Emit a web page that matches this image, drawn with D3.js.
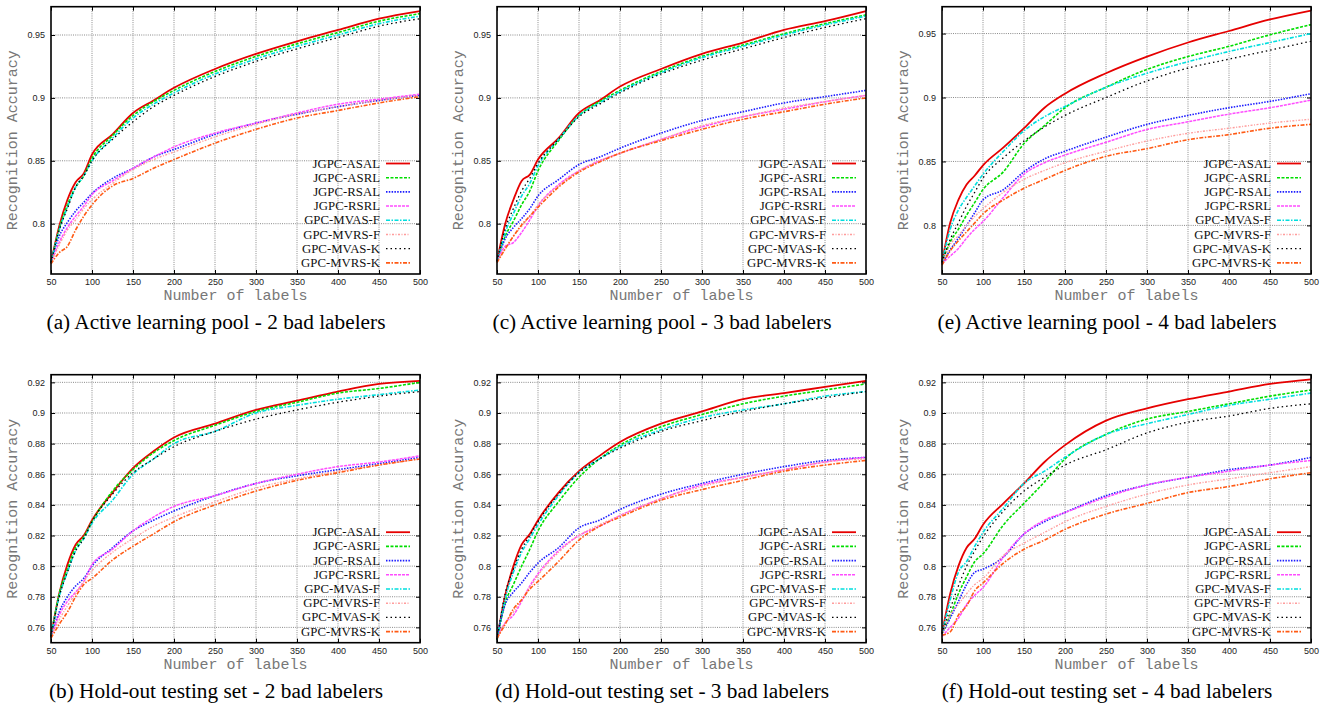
<!DOCTYPE html>
<html>
<head>
<meta charset="utf-8">
<script src="https://cdn.jsdelivr.net/npm/d3@7"></script>
<style>
  body { margin: 0; background: #fff; }
</style>
</head>
<body>
<div id="chart"></div>
<script>
// x positions (number of labels) where values were read
const labelCounts = [50, 60, 70, 80, 90, 100, 125, 150, 175, 200, 250, 300, 350, 400, 450, 500];
const methods = ["JGPC-ASAL", "JGPC-ASRL", "JGPC-RSAL", "JGPC-RSRL", "GPC-MVAS-F", "GPC-MVRS-F", "GPC-MVAS-K", "GPC-MVRS-K"];
const xTicks = [50, 100, 150, 200, 250, 300, 350, 400, 450, 500];
const yTicksPool = [0.8, 0.85, 0.9, 0.95];
const yTicksHold = [0.76, 0.78, 0.8, 0.82, 0.84, 0.86, 0.88, 0.9, 0.92];

// (a) active learning pool - 2 bad labelers (rows follow `methods`)
const pool2 = [
  [0.769, 0.798, 0.819, 0.833, 0.840, 0.855, 0.871, 0.888, 0.898, 0.908, 0.923, 0.935, 0.945, 0.954, 0.963, 0.969],
  [0.769, 0.796, 0.815, 0.829, 0.838, 0.852, 0.870, 0.886, 0.897, 0.906, 0.921, 0.933, 0.943, 0.952, 0.961, 0.967],
  [0.769, 0.790, 0.801, 0.810, 0.817, 0.824, 0.836, 0.844, 0.853, 0.859, 0.871, 0.880, 0.887, 0.893, 0.898, 0.902],
  [0.769, 0.785, 0.797, 0.806, 0.814, 0.823, 0.834, 0.844, 0.853, 0.861, 0.872, 0.880, 0.888, 0.895, 0.899, 0.903],
  [0.769, 0.795, 0.813, 0.829, 0.838, 0.850, 0.868, 0.884, 0.895, 0.904, 0.919, 0.931, 0.941, 0.950, 0.959, 0.965],
  [0.769, 0.783, 0.795, 0.803, 0.812, 0.819, 0.832, 0.843, 0.851, 0.857, 0.869, 0.879, 0.887, 0.893, 0.898, 0.902],
  [0.769, 0.795, 0.812, 0.829, 0.838, 0.850, 0.867, 0.881, 0.893, 0.902, 0.917, 0.929, 0.939, 0.948, 0.957, 0.963],
  [0.768, 0.777, 0.782, 0.795, 0.806, 0.815, 0.830, 0.836, 0.844, 0.851, 0.864, 0.875, 0.884, 0.890, 0.896, 0.901]
];
// (c) active learning pool - 3 bad labelers
const pool3 = [
  [0.770, 0.800, 0.819, 0.834, 0.839, 0.851, 0.868, 0.888, 0.898, 0.909, 0.923, 0.935, 0.944, 0.954, 0.961, 0.969],
  [0.770, 0.790, 0.802, 0.815, 0.826, 0.842, 0.866, 0.886, 0.897, 0.906, 0.921, 0.933, 0.942, 0.951, 0.959, 0.966],
  [0.770, 0.788, 0.797, 0.804, 0.812, 0.822, 0.835, 0.847, 0.853, 0.860, 0.872, 0.882, 0.889, 0.896, 0.901, 0.906],
  [0.770, 0.782, 0.785, 0.793, 0.803, 0.814, 0.831, 0.842, 0.850, 0.856, 0.867, 0.877, 0.885, 0.891, 0.897, 0.902],
  [0.770, 0.793, 0.808, 0.822, 0.832, 0.846, 0.867, 0.886, 0.896, 0.905, 0.920, 0.932, 0.941, 0.950, 0.958, 0.965],
  [0.770, 0.780, 0.790, 0.798, 0.806, 0.815, 0.830, 0.842, 0.850, 0.856, 0.867, 0.878, 0.885, 0.892, 0.897, 0.902],
  [0.770, 0.796, 0.812, 0.826, 0.836, 0.848, 0.867, 0.885, 0.895, 0.904, 0.919, 0.930, 0.939, 0.948, 0.956, 0.963],
  [0.769, 0.780, 0.790, 0.799, 0.806, 0.813, 0.829, 0.841, 0.849, 0.856, 0.866, 0.875, 0.883, 0.889, 0.895, 0.900]
];
// (e) active learning pool - 4 bad labelers
const pool4 = [
  [0.771, 0.802, 0.820, 0.832, 0.839, 0.847, 0.861, 0.876, 0.892, 0.903, 0.919, 0.932, 0.943, 0.952, 0.961, 0.968],
  [0.771, 0.787, 0.797, 0.808, 0.818, 0.828, 0.842, 0.864, 0.878, 0.892, 0.908, 0.922, 0.932, 0.940, 0.949, 0.957],
  [0.770, 0.781, 0.790, 0.800, 0.810, 0.820, 0.828, 0.842, 0.852, 0.858, 0.869, 0.879, 0.886, 0.892, 0.897, 0.903],
  [0.770, 0.776, 0.782, 0.790, 0.797, 0.803, 0.822, 0.840, 0.849, 0.855, 0.865, 0.875, 0.881, 0.887, 0.892, 0.898],
  [0.771, 0.797, 0.812, 0.822, 0.831, 0.840, 0.858, 0.874, 0.885, 0.893, 0.908, 0.919, 0.928, 0.936, 0.943, 0.950],
  [0.770, 0.785, 0.792, 0.800, 0.807, 0.813, 0.826, 0.836, 0.843, 0.849, 0.858, 0.866, 0.872, 0.876, 0.880, 0.883],
  [0.771, 0.789, 0.802, 0.815, 0.826, 0.837, 0.853, 0.866, 0.877, 0.886, 0.900, 0.913, 0.923, 0.930, 0.937, 0.944],
  [0.769, 0.780, 0.788, 0.795, 0.802, 0.809, 0.820, 0.829, 0.836, 0.843, 0.854, 0.860, 0.867, 0.871, 0.876, 0.879]
];
// (b) hold-out testing set - 2 bad labelers
const hold2 = [
  [0.754, 0.782, 0.801, 0.814, 0.820, 0.830, 0.848, 0.864, 0.875, 0.884, 0.893, 0.902, 0.908, 0.914, 0.919, 0.921],
  [0.754, 0.782, 0.798, 0.812, 0.819, 0.829, 0.849, 0.863, 0.874, 0.882, 0.892, 0.901, 0.907, 0.913, 0.916, 0.920],
  [0.754, 0.770, 0.780, 0.787, 0.792, 0.800, 0.812, 0.823, 0.830, 0.836, 0.846, 0.854, 0.859, 0.863, 0.867, 0.871],
  [0.754, 0.768, 0.777, 0.783, 0.790, 0.801, 0.811, 0.823, 0.832, 0.839, 0.846, 0.854, 0.860, 0.865, 0.868, 0.872],
  [0.754, 0.780, 0.796, 0.810, 0.818, 0.828, 0.843, 0.860, 0.870, 0.880, 0.888, 0.900, 0.905, 0.909, 0.912, 0.915],
  [0.754, 0.765, 0.774, 0.782, 0.790, 0.797, 0.809, 0.818, 0.826, 0.832, 0.842, 0.851, 0.857, 0.862, 0.866, 0.870],
  [0.754, 0.780, 0.796, 0.810, 0.818, 0.829, 0.847, 0.861, 0.870, 0.878, 0.888, 0.896, 0.902, 0.907, 0.911, 0.914],
  [0.753, 0.762, 0.770, 0.780, 0.788, 0.792, 0.804, 0.813, 0.821, 0.829, 0.840, 0.849, 0.856, 0.861, 0.866, 0.870]
];
// (d) hold-out testing set - 3 bad labelers
const hold3 = [
  [0.752, 0.781, 0.800, 0.814, 0.821, 0.830, 0.848, 0.862, 0.872, 0.881, 0.893, 0.901, 0.909, 0.913, 0.917, 0.921],
  [0.752, 0.776, 0.788, 0.800, 0.811, 0.823, 0.842, 0.858, 0.870, 0.879, 0.891, 0.899, 0.906, 0.911, 0.915, 0.919],
  [0.753, 0.775, 0.783, 0.789, 0.796, 0.802, 0.812, 0.825, 0.830, 0.837, 0.847, 0.854, 0.860, 0.865, 0.869, 0.871],
  [0.753, 0.763, 0.768, 0.777, 0.787, 0.795, 0.810, 0.820, 0.826, 0.833, 0.844, 0.853, 0.858, 0.863, 0.868, 0.871],
  [0.752, 0.779, 0.796, 0.809, 0.818, 0.827, 0.846, 0.861, 0.870, 0.878, 0.889, 0.897, 0.902, 0.906, 0.911, 0.914],
  [0.753, 0.763, 0.770, 0.778, 0.786, 0.794, 0.809, 0.820, 0.827, 0.833, 0.844, 0.852, 0.858, 0.863, 0.868, 0.870],
  [0.752, 0.782, 0.798, 0.811, 0.820, 0.829, 0.847, 0.861, 0.870, 0.877, 0.888, 0.895, 0.901, 0.906, 0.910, 0.914],
  [0.753, 0.762, 0.772, 0.778, 0.785, 0.790, 0.803, 0.817, 0.826, 0.832, 0.843, 0.850, 0.856, 0.862, 0.866, 0.869]
];
// (f) hold-out testing set - 4 bad labelers
const hold4 = [
  [0.756, 0.782, 0.800, 0.812, 0.818, 0.827, 0.841, 0.854, 0.868, 0.879, 0.895, 0.903, 0.909, 0.914, 0.919, 0.922],
  [0.756, 0.768, 0.782, 0.793, 0.803, 0.808, 0.827, 0.841, 0.855, 0.870, 0.886, 0.896, 0.901, 0.906, 0.911, 0.915],
  [0.756, 0.766, 0.777, 0.788, 0.796, 0.798, 0.806, 0.821, 0.829, 0.835, 0.846, 0.853, 0.858, 0.863, 0.866, 0.871],
  [0.754, 0.760, 0.766, 0.775, 0.781, 0.786, 0.806, 0.821, 0.830, 0.835, 0.845, 0.853, 0.858, 0.862, 0.866, 0.869],
  [0.756, 0.778, 0.796, 0.803, 0.813, 0.822, 0.838, 0.854, 0.862, 0.871, 0.886, 0.893, 0.899, 0.905, 0.909, 0.913],
  [0.755, 0.768, 0.775, 0.782, 0.788, 0.792, 0.807, 0.815, 0.822, 0.829, 0.839, 0.847, 0.853, 0.857, 0.861, 0.865],
  [0.756, 0.772, 0.787, 0.800, 0.810, 0.819, 0.836, 0.849, 0.858, 0.866, 0.876, 0.887, 0.894, 0.898, 0.903, 0.906],
  [0.755, 0.757, 0.768, 0.774, 0.784, 0.789, 0.802, 0.811, 0.817, 0.824, 0.834, 0.841, 0.848, 0.852, 0.857, 0.861]
];

const captions = [
  "(a) Active learning pool - 2 bad labelers",
  "(c) Active learning pool - 3 bad labelers",
  "(e) Active learning pool - 4 bad labelers",
  "(b) Hold-out testing set - 2 bad labelers",
  "(d) Hold-out testing set - 3 bad labelers",
  "(f) Hold-out testing set - 4 bad labelers"
];

// gnuplot-ish line styles, one per method
const colors = ["#e60000", "#00dd00", "#1c1cff", "#ff4dff", "#00dede", "#ff9d9d", "#000000", "#ff5a14"];
const dashes = [null, "3,1.5", "1.5,1.3", "3,1", "4,1.5,1.5,1.5", "2,1.5,1,1.5", "1.5,3", "4,1.5,1.5,1.5"];
const widths = [1.8, 1.6, 1.6, 1.5, 1.6, 1.4, 1.3, 1.6];

const W = 1329, H = 703;
const plotW = 369;
const colLeft = [51, 497, 942];
const rowTop = [6.7, 374.7];
const rowH = [267.3, 268];

const panels = [
  {data: pool2, row: 0, col: 0, domain: [0.76, 0.9725], ticks: yTicksPool},
  {data: pool3, row: 0, col: 1, domain: [0.76, 0.9725], ticks: yTicksPool},
  {data: pool4, row: 0, col: 2, domain: [0.762, 0.971], ticks: yTicksPool},
  {data: hold2, row: 1, col: 0, domain: [0.75, 0.925], ticks: yTicksHold},
  {data: hold3, row: 1, col: 1, domain: [0.75, 0.925], ticks: yTicksHold},
  {data: hold4, row: 1, col: 2, domain: [0.75, 0.925], ticks: yTicksHold}
];

const svg = d3.select("#chart").append("svg")
  .attr("width", W)
  .attr("height", H)
  .style("font-family", "'Liberation Sans', Arial, sans-serif");

const drawPanel = (p, i) => {
  const h = rowH[p.row];
  const g = svg.append("g")
    .attr("transform", `translate(${colLeft[p.col]},${rowTop[p.row]})`);

  const x = d3.scaleLinear().domain([50, 500]).range([0, plotW]);
  const y = d3.scaleLinear().domain(p.domain).range([h, 0]);

  // dotted grid
  g.append("g").selectAll("line.gx")
    .data(xTicks.slice(1, -1))
    .join("line")
    .attr("x1", d => x(d)).attr("x2", d => x(d))
    .attr("y1", 0).attr("y2", h)
    .attr("stroke", "#8a8a8a").attr("stroke-width", 1).attr("stroke-dasharray", "1,1.2");
  g.append("g").selectAll("line.gy")
    .data(p.ticks)
    .join("line")
    .attr("x1", 0).attr("x2", plotW)
    .attr("y1", d => y(d)).attr("y2", d => y(d))
    .attr("stroke", "#8a8a8a").attr("stroke-width", 1).attr("stroke-dasharray", "1,1.2");

  // axes with inward ticks, mirrored on top/right
  const styleAxis = (a, labels) => {
    a.select(".domain").remove();
    a.selectAll(".tick line").attr("stroke", "#000").attr("stroke-width", 1);
    a.selectAll(".tick text")
      .attr("fill", labels ? "#222" : "none")
      .attr("font-size", 9);
  };
  g.append("g").attr("transform", `translate(0,${h})`)
    .call(d3.axisBottom(x).tickValues(xTicks).tickSize(-4).tickPadding(5))
    .call(a => styleAxis(a, true));
  g.append("g")
    .call(d3.axisTop(x).tickValues(xTicks).tickSize(-4).tickFormat(""))
    .call(a => styleAxis(a, false));
  g.append("g")
    .call(d3.axisLeft(y).tickValues(p.ticks).tickSize(-4).tickPadding(6).tickFormat(d3.format("~g")))
    .call(a => styleAxis(a, true));
  g.append("g").attr("transform", `translate(${plotW},0)`)
    .call(d3.axisRight(y).tickValues(p.ticks).tickSize(-4).tickFormat(""))
    .call(a => styleAxis(a, false));

  // series
  const line = d3.line()
    .x((d, j) => x(labelCounts[j]))
    .y(d => y(d))
    .curve(d3.curveMonotoneX);
  g.append("g").selectAll("path.series")
    .data(p.data)
    .join("path")
    .attr("class", "series")
    .attr("d", d => line(d))
    .attr("fill", "none")
    .attr("stroke", (d, k) => colors[k])
    .attr("stroke-width", (d, k) => widths[k])
    .attr("stroke-dasharray", (d, k) => dashes[k]);

  // frame
  g.append("rect")
    .attr("width", plotW).attr("height", h)
    .attr("fill", "none").attr("stroke", "#000").attr("stroke-width", 1.6);

  // legend, bottom right inside the plot
  const leg = g.append("g").selectAll("g")
    .data(methods)
    .join("g")
    .attr("transform", (d, k) => `translate(0,${h - 110.5 + k * 14.2})`);
  leg.append("text")
    .attr("x", plotW - 40)
    .attr("text-anchor", "end")
    .attr("dominant-baseline", "central")
    .attr("font-family", "'Liberation Serif', 'Times New Roman', serif")
    .attr("font-size", 12.8)
    .attr("fill", "#111")
    .text(d => d);
  leg.append("line")
    .attr("x1", plotW - 34).attr("x2", plotW - 10)
    .attr("stroke", (d, k) => colors[k])
    .attr("stroke-width", (d, k) => widths[k])
    .attr("stroke-dasharray", (d, k) => dashes[k]);

  // axis titles
  g.append("text")
    .attr("x", plotW / 2).attr("y", h + 26)
    .attr("text-anchor", "middle")
    .attr("font-family", "'Liberation Mono', 'Courier New', monospace")
    .attr("font-size", 15)
    .attr("fill", "#777")
    .text("Number of labels");
  g.append("text")
    .attr("transform", `translate(-38,${h / 2}) rotate(-90)`)
    .attr("text-anchor", "middle")
    .attr("dominant-baseline", "central")
    .attr("font-family", "'Liberation Mono', 'Courier New', monospace")
    .attr("font-size", 15)
    .attr("fill", "#777")
    .text("Recognition Accuracy");

  // caption
  g.append("text")
    .attr("x", 165).attr("y", h + 55)
    .attr("text-anchor", "middle")
    .attr("font-family", "'Liberation Serif', 'Times New Roman', serif")
    .attr("font-size", 21.3)
    .attr("fill", "#000")
    .text(captions[i]);
};

panels.forEach(drawPanel);
</script>
</body>
</html>
